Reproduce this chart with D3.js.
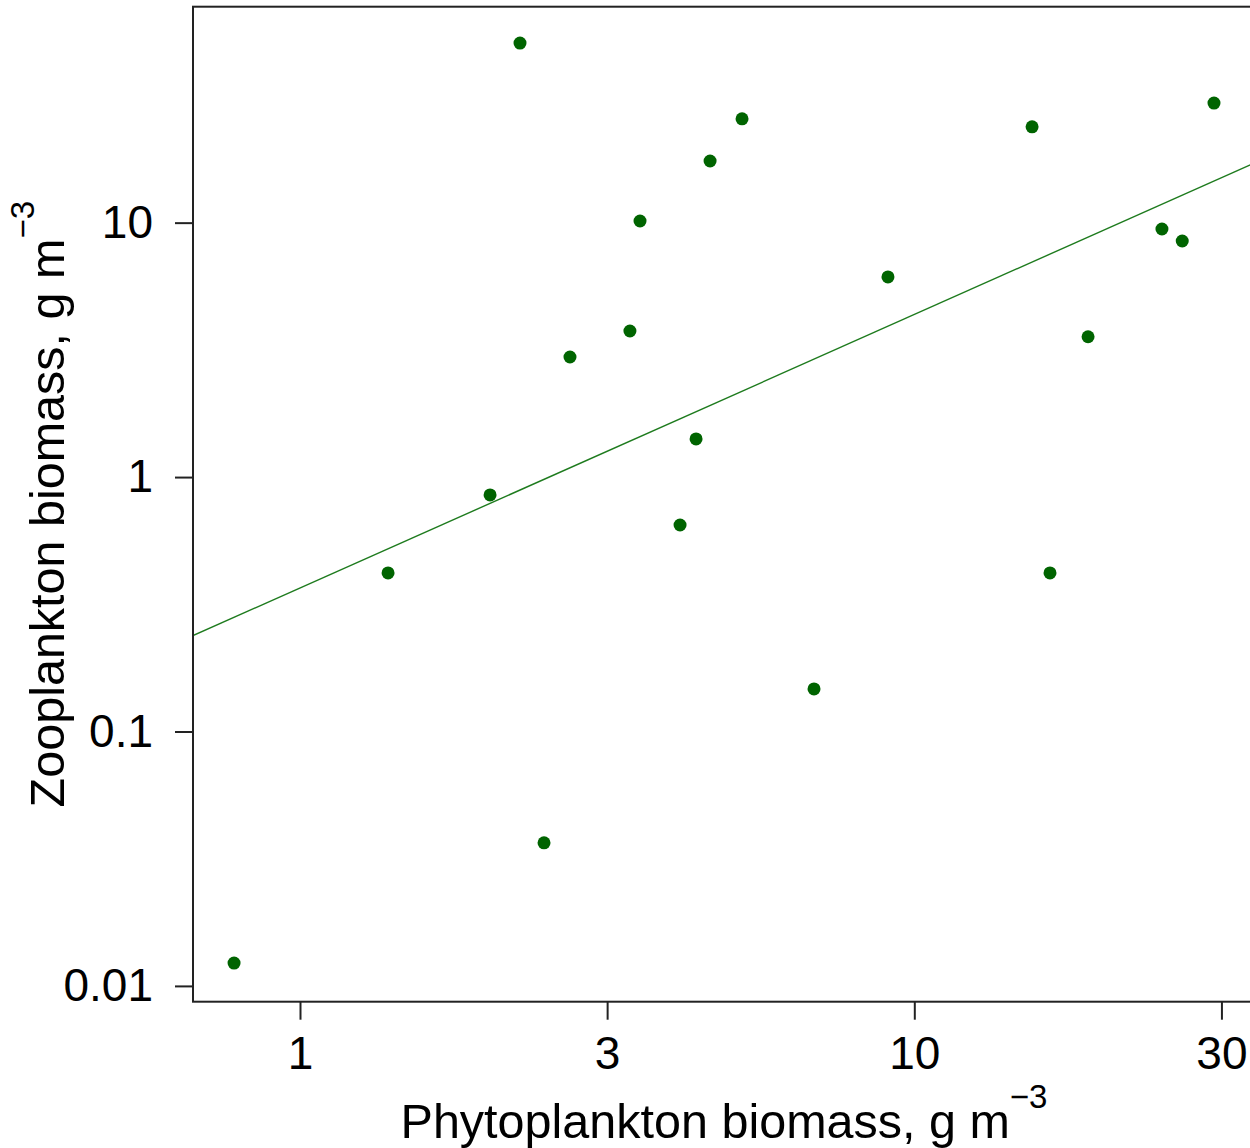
<!DOCTYPE html>
<html>
<head>
<meta charset="utf-8">
<script src="https://cdn.jsdelivr.net/npm/d3@7"></script>
<style>
  html, body { margin: 0; padding: 0; background: #fff; }
  svg { display: block; }
  text { font-family: "Liberation Sans", Arial, sans-serif; fill: #000; }
</style>
</head>
<body>
<svg id="chart" width="1250" height="1148"></svg>
<script>
// ---- data ----
const phytoplankton = [0.781, 1.391, 2.039, 2.281, 2.496, 2.751, 3.444, 3.577, 4.156, 4.413,
                       4.651, 5.243, 6.867, 9.06, 15.55, 16.63, 19.18, 25.3, 27.3, 30.75];
const zooplankton   = [0.0123, 0.420, 0.851, 50.8, 0.0365, 2.965, 3.75, 10.15, 0.648, 1.412,
                       17.47, 25.6, 0.147, 6.12, 23.8, 0.420, 3.56, 9.44, 8.47, 29.5];
// log10-log10 regression line
const fitIntercept = -0.436;
const fitSlope = 1.075;

const xDomain = [0.6696, 35.86];
const yDomain = [0.008668, 70.6];
const xTickValues = [1, 3.162, 10, 31.62];
const xTickLabels = ["1", "3", "10", "30"];
const yTickValues = [0.01, 0.1, 1, 10];
const yTickLabels = ["0.01", "0.1", "1", "10"];

// ---- layout ----
const plot = { left: 193, right: 1255, top: 6.7, bottom: 1001.7 };
const fontSize = 46;
const titleSize = 48.5;

const svg = d3.select("#chart");
const x = d3.scaleLog().domain(xDomain).range([plot.left, plot.right]);
const y = d3.scaleLog().domain(yDomain).range([plot.bottom, plot.top]);

svg.append("defs").append("clipPath").attr("id", "clip")
  .append("rect")
  .attr("x", plot.left).attr("y", plot.top)
  .attr("width", plot.right - plot.left).attr("height", plot.bottom - plot.top);

// regression line
const lineData = xDomain.map(v => [v, Math.pow(10, fitIntercept + fitSlope * Math.log10(v))]);
svg.append("path")
  .attr("clip-path", "url(#clip)")
  .attr("d", d3.line().x(d => x(d[0])).y(d => y(d[1]))(lineData))
  .attr("fill", "none")
  .attr("stroke", "#1e7b1e")
  .attr("stroke-width", 1.4);

// points
svg.append("g").selectAll("circle")
  .data(phytoplankton.map((p, i) => [p, zooplankton[i]]))
  .join("circle")
  .attr("cx", d => x(d[0]))
  .attr("cy", d => y(d[1]))
  .attr("r", 6.5)
  .attr("fill", "#006400");

// box
svg.append("rect")
  .attr("x", plot.left).attr("y", plot.top)
  .attr("width", plot.right - plot.left).attr("height", plot.bottom - plot.top)
  .attr("fill", "none").attr("stroke", "#222").attr("stroke-width", 2);

// axes
const xAxis = d3.axisBottom(x)
  .tickValues(xTickValues)
  .tickFormat((d, i) => xTickLabels[i])
  .tickSize(18).tickPadding(17);
const gx = svg.append("g").attr("transform", `translate(0,${plot.bottom})`).call(xAxis);

const yAxis = d3.axisLeft(y)
  .tickValues(yTickValues)
  .tickFormat((d, i) => yTickLabels[i])
  .tickSize(18).tickPadding(22);
const gy = svg.append("g").attr("transform", `translate(${plot.left},0)`).call(yAxis);

[gx, gy].forEach(g => {
  g.select(".domain").remove();
  g.selectAll(".tick line").attr("stroke", "#222").attr("stroke-width", 2);
  g.selectAll(".tick text")
    .attr("font-size", fontSize)
    .attr("font-family", "'Liberation Sans', Arial, sans-serif")
    .attr("fill", "#000");
});

// axis titles
const cx = (plot.left + plot.right) / 2;
const cy = (plot.top + plot.bottom) / 2;

const xt = svg.append("text")
  .attr("x", cx).attr("y", 1138)
  .attr("text-anchor", "middle")
  .attr("font-size", titleSize);
xt.append("tspan").text("Phytoplankton biomass, g m");
xt.append("tspan").attr("dy", -30).attr("font-size", 33).text("\u22123");

const yt = svg.append("text")
  .attr("transform", `translate(64,${cy}) rotate(-90)`)
  .attr("text-anchor", "middle")
  .attr("font-size", titleSize);
yt.append("tspan").text("Zooplankton biomass, g m");
yt.append("tspan").attr("dy", -30).attr("font-size", 33).text("\u22123");
</script>
</body>
</html>
